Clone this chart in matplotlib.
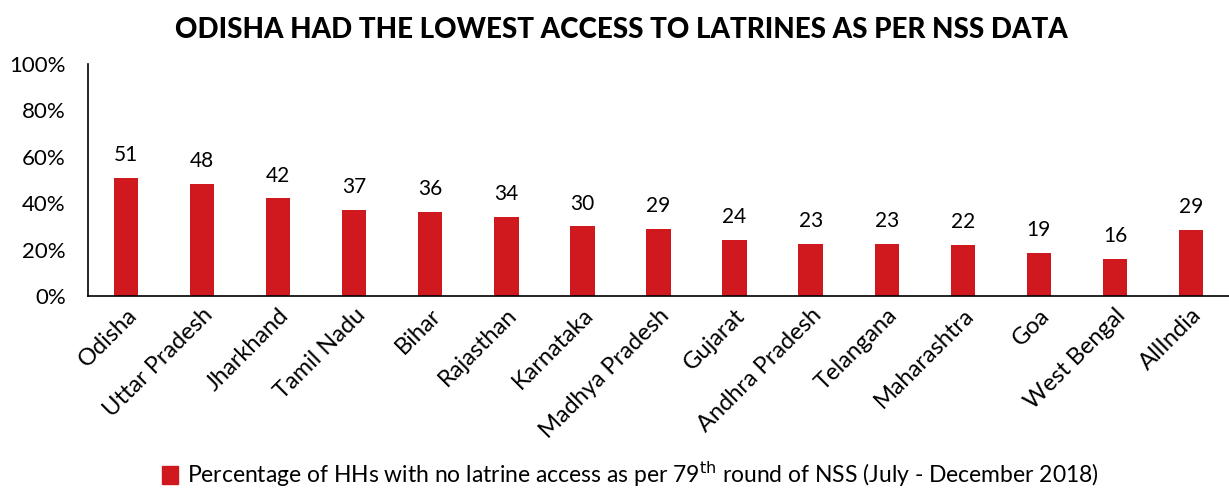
import matplotlib
matplotlib.use("Agg")
import matplotlib.pyplot as plt
from matplotlib.patches import Patch

states = ["Odisha", "Uttar Pradesh", "Jharkhand", "Tamil Nadu", "Bihar", "Rajasthan",
          "Karnataka", "Madhya Pradesh", "Gujarat", "Andhra Pradesh", "Telangana",
          "Maharashtra", "Goa", "West Bengal", "AllIndia"]
values = [50.8, 48.2, 42.1, 37.3, 36.2, 34.2, 30.1, 29.0, 24.2, 22.6, 22.5, 22.0, 18.6, 16.1, 28.7]
labels = ["51", "48", "42", "37", "36", "34", "30", "29", "24", "23", "23", "22", "19", "16", "29"]
yticks = [0, 20, 40, 60, 80, 100]

RED = "#D0191F"
plt.rcParams['font.family'] = ['Lato', 'DejaVu Sans']

fig = plt.figure(figsize=(12.29, 4.88), dpi=100)
ax = fig.add_axes([0.0716, 0.393, 0.9284, 0.476])
x = range(len(states))
ax.bar(x, values, width=0.32, color=RED)
for xi, v, lab in zip(x, values, labels):
    ax.text(xi, v + 5.5, lab, ha="center", va="bottom", fontsize=15, color="black")
ax.set_xlim(-0.5, len(states) - 0.5)
ax.set_ylim(0, 100)
ax.set_yticks(yticks)
ax.set_yticklabels([f"{t}%" for t in yticks], fontsize=16)
ax.set_xticks(list(x))
ax.set_xticklabels(states, rotation=45, ha="right", rotation_mode="anchor", fontsize=17)
ax.tick_params(axis="both", length=0, pad=6)
ax.tick_params(axis="y", pad=16)
for s in ["top", "right"]:
    ax.spines[s].set_visible(False)
ax.spines["left"].set_linewidth(1.2)
ax.spines["bottom"].set_linewidth(1.2)

fig.text(0.506, 0.938, "ODISHA HAD THE LOWEST ACCESS TO LATRINES AS PER NSS DATA",
         ha="center", va="center", fontsize=20, fontweight="black")
fig.legend(handles=[Patch(color=RED)],
           labels=["Percentage of HHs with no latrine access as per 79$^{\\mathrm{th}}$ round of NSS (July - December 2018)"],
           loc="center", bbox_to_anchor=(0.513, 0.028), frameon=False, fontsize=16.5,
           handlelength=0.7, handleheight=0.8, handletextpad=0.4)
fig.savefig("out.png", dpi=100)
